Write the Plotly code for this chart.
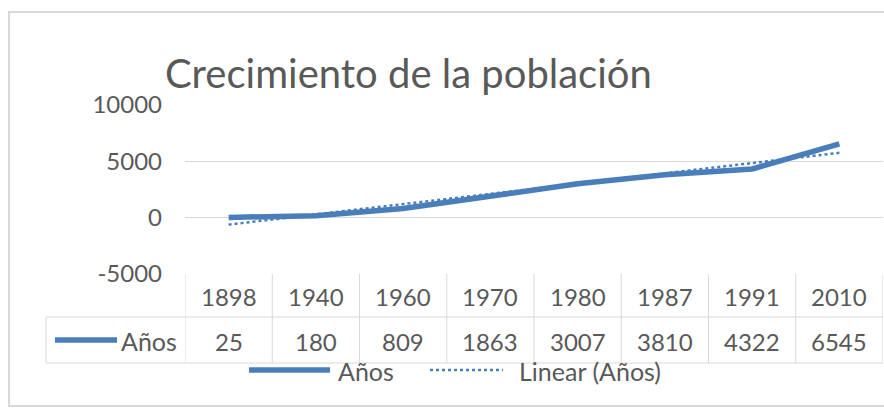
import numpy as np
import plotly.graph_objects as go

# ---- data ----
years = ["1898", "1940", "1960", "1970", "1980", "1987", "1991", "2010"]
values = [25, 180, 809, 1863, 3007, 3810, 4322, 6545]
series_name = "Años"
trend_name = "Linear (Años)"
title_text = "Crecimiento de la población"
y_ticks = [-5000, 0, 5000, 10000]

# linear trendline (least squares on category index, like Excel)
idx = np.arange(1, len(values) + 1)
slope, intercept = np.polyfit(idx, values, 1)
trend = list(slope * idx + intercept)

W, H = 884, 408
BLUE = "#4a7ebb"
TXT = "#595959"
GRID = "#d9d9d9"
FONT = "Lato"

def px(x):
    return x / W

def py(y):
    return 1 - y / H

fig = go.Figure()
fig.add_trace(go.Scatter(x=years, y=values, mode="lines", name=series_name,
                         line=dict(color=BLUE, width=5.5), cliponaxis=False,
                         showlegend=False, hoverinfo="skip"))
fig.add_trace(go.Scatter(x=years, y=trend, mode="lines", name=trend_name,
                         line=dict(color=BLUE, width=2.5, dash="dot"),
                         cliponaxis=False, showlegend=False, hoverinfo="skip"))

shapes = []
# chart border
shapes.append(dict(type="rect", xref="paper", yref="paper",
                   x0=px(9), x1=px(W + 20), y0=py(406), y1=py(12),
                   line=dict(color=GRID, width=2), layer="below"))
# table lines
for i in range(len(years) + 1):
    shapes.append(dict(type="line", xref="x", yref="paper",
                       x0=i - 0.5, x1=i - 0.5, y0=py(363), y1=py(274),
                       line=dict(color=GRID, width=1)))
shapes.append(dict(type="line", xref="paper", yref="paper",
                   x0=px(46), x1=px(46), y0=py(363), y1=py(317),
                   line=dict(color=GRID, width=1)))
for yy in (317, 363):
    shapes.append(dict(type="line", xref="paper", yref="paper",
                       x0=px(46), x1=px(883), y0=py(yy), y1=py(yy),
                       line=dict(color=GRID, width=1)))
# legend key in table
shapes.append(dict(type="line", xref="paper", yref="paper",
                   x0=px(55), x1=px(117), y0=py(340), y1=py(340),
                   line=dict(color=BLUE, width=5.5)))
# bottom legend keys
shapes.append(dict(type="line", xref="paper", yref="paper",
                   x0=px(249), x1=px(330), y0=py(370), y1=py(370),
                   line=dict(color=BLUE, width=5.5)))
shapes.append(dict(type="line", xref="paper", yref="paper",
                   x0=px(430), x1=px(503), y0=py(370), y1=py(370),
                   line=dict(color=BLUE, width=2.5, dash="dot")))

ann = []
ann.append(dict(text=title_text, xref="paper", yref="paper", x=px(163), y=py(73),
                xanchor="left", yanchor="middle", showarrow=False,
                font=dict(family=FONT, size=40, color=TXT)))
for i, (yr, v) in enumerate(zip(years, values)):
    ann.append(dict(text=yr, xref="x", yref="paper", x=i, y=py(296),
                    xanchor="center", yanchor="middle", showarrow=False,
                    font=dict(family=FONT, size=24, color=TXT)))
    ann.append(dict(text=str(v), xref="x", yref="paper", x=i, y=py(341),
                    xanchor="center", yanchor="middle", showarrow=False,
                    font=dict(family=FONT, size=24, color=TXT)))
ann.append(dict(text=series_name, xref="paper", yref="paper", x=px(119), y=py(341),
                xanchor="left", yanchor="middle", showarrow=False,
                font=dict(family=FONT, size=25, color=TXT)))
ann.append(dict(text=series_name, xref="paper", yref="paper", x=px(336), y=py(371),
                xanchor="left", yanchor="middle", showarrow=False,
                font=dict(family=FONT, size=25, color=TXT)))
ann.append(dict(text=trend_name, xref="paper", yref="paper", x=px(517), y=py(371),
                xanchor="left", yanchor="middle", showarrow=False,
                font=dict(family=FONT, size=25, color=TXT)))

fig.update_layout(
    width=W, height=H, autosize=False,
    margin=dict(l=0, r=0, t=0, b=0, pad=0, autoexpand=False),
    paper_bgcolor="white", plot_bgcolor="white",
    showlegend=False,
    shapes=shapes, annotations=ann,
    font=dict(family=FONT, color=TXT),
    xaxis=dict(domain=[px(185), px(883)], type="category", range=[-0.5, 7.5],
               showticklabels=False, showgrid=False, zeroline=False, ticks="",
               automargin=False),
    yaxis=dict(domain=[py(274), py(105)], range=[-5000, 10000],
               tickvals=y_ticks, ticktext=[str(t) for t in y_ticks],
               showgrid=True, gridcolor=GRID, gridwidth=1, zeroline=False,
               tickfont=dict(family=FONT, size=24, color=TXT),
               ticklabelstandoff=22, ticks="", automargin=False),
)

fig.write_html("out.html",
               config={"displayModeBar": False, "responsive": False},
               post_script="document.body.style.margin='0';"
                           "document.body.style.overflow='hidden';")
